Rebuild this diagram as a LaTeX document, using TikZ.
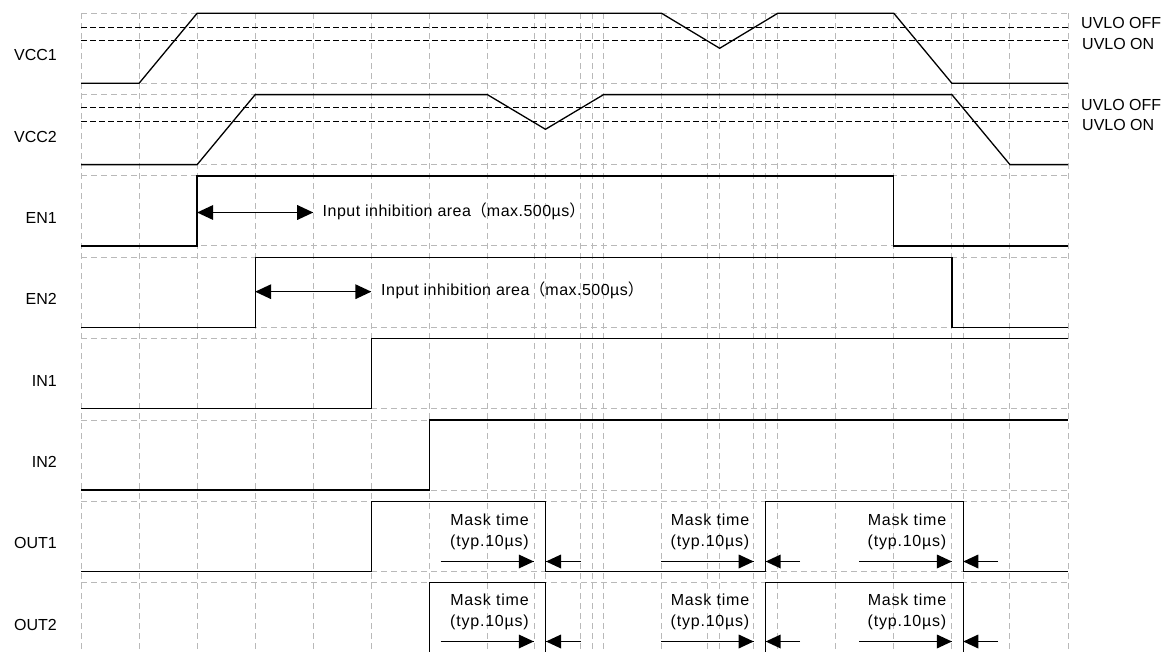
\documentclass[tikz,border=0pt]{standalone}
\usepackage{fontspec}
\setmainfont{Liberation Sans}
\newfontfamily\cjkfont{Noto Sans CJK JP}
\newfontfamily\spacedA[LetterSpace=5]{Liberation Sans}
\newfontfamily\spacedB[LetterSpace=3]{Liberation Sans}
\definecolor{gridgray}{RGB}{185,185,185}
\newcommand\diagfs{\fontsize{16}{19}\selectfont}
\begin{document}
\begin{tikzpicture}[x=1pt,y=-1pt,
  gridline/.style={gridgray, line width=1pt, dash pattern=on 6pt off 4pt},
  uvlo/.style={black, line width=1.8pt, dash pattern=on 6pt off 3pt},
  sig/.style={black, line width=1.3pt, line join=miter},
  siglab/.style={font=\diagfs, inner sep=0pt, anchor=base east},
  uvlolab/.style={font=\diagfs, inner sep=0pt, anchor=base west},
  inhlab/.style={font=\diagfs\spacedB, inner sep=0pt, anchor=base west},
  masklab/.style={font=\diagfs\spacedA, inner sep=0pt, anchor=base},
  arrline/.style={black, line width=1.3pt},
  headfill/.style={fill=black}
]
\useasboundingbox (0,0) rectangle (1168,652);
\clip (0,0) rectangle (1168,652);

% ---- grid ----
\foreach \t in {13.3,94.65,176.0,257.35,338.7,420.05,501.4,582.75}{
  \draw[gridline] (81,\t) -- (1068.02,\t);
  \draw[gridline] (81,{\t+70}) -- (1068.02,{\t+70});
}
\foreach \k in {0,...,17}{
  \draw[gridline] ({81+58.06*\k},13.3) -- ({81+58.06*\k},652);
}
\foreach \x in {534.3,580,592.3,707.3,753.7,765.7,963.3}{
  \draw[gridline] (\x,13.3) -- (\x,652);
}

% ---- UVLO thresholds ----
\draw[uvlo] (81,27.5) -- (1068.02,27.5);
\draw[uvlo] (81,40.5) -- (1068.02,40.5);
\draw[uvlo] (81,107.5) -- (1068.02,107.5);
\draw[uvlo] (81,121.5) -- (1068.02,121.5);

% ---- signals ----
% VCC1
\draw[sig] (81,83.3) -- (139.06,83.3) -- (197.12,13.3) -- (661.6,13.3) -- (719.66,48.3) -- (777.72,13.3) -- (893.84,13.3) -- (951.9,83.3) -- (1068.02,83.3);
% VCC2
\draw[sig] (81,164.65) -- (197.12,164.65) -- (255.18,94.65) -- (487.42,94.65) -- (545.48,129.3) -- (603.54,94.65) -- (951.9,94.65) -- (1009.96,164.65) -- (1068.02,164.65);
% EN1
\draw[sig] (81,246) -- (197.12,246) -- (197.12,176) -- (893.84,176) -- (893.84,246) -- (1068.02,246);
% EN2
\draw[sig] (81,327.35) -- (255.18,327.35) -- (255.18,257.35) -- (951.9,257.35) -- (951.9,327.35) -- (1068.02,327.35);
% IN1
\draw[sig] (81,408.7) -- (371.3,408.7) -- (371.3,338.7) -- (1068.02,338.7);
% IN2
\draw[sig] (81,490.05) -- (429.36,490.05) -- (429.36,420.05) -- (1068.02,420.05);
% OUT1
\draw[sig] (81,571.4) -- (371.3,571.4) -- (371.3,501.4) -- (545.48,501.4) -- (545.48,571.4) -- (765.7,571.4) -- (765.7,501.4) -- (963.3,501.4) -- (963.3,571.4) -- (1068.02,571.4);
% OUT2
\draw[sig] (81,652.75) -- (429.36,652.75) -- (429.36,582.75) -- (545.48,582.75) -- (545.48,652.75) -- (765.7,652.75) -- (765.7,582.75) -- (963.3,582.75) -- (963.3,652.75) -- (1068.02,652.75);

% ---- signal labels ----
\node[siglab] (lvcc1) at (57,60.7) {VCC1};
\node[siglab] (lvcc2) at (57,142.05) {VCC2};
\node[siglab] (len1) at (57,223.4) {EN1};
\node[siglab] (len2) at (57,304.75) {EN2};
\node[siglab] (lin1) at (57,386.1) {IN1};
\node[siglab] (lin2) at (57,467.45) {IN2};
\node[siglab] (lout1) at (57,548.8) {OUT1};
\node[siglab] (lout2) at (57,630.15) {OUT2};

% ---- UVLO labels ----
\node[uvlolab] (off1) at (1081,29) {UVLO OFF};
\node[uvlolab] (on1) at (1082,49.5) {UVLO ON};
\node[uvlolab] (off2) at (1081,110.5) {UVLO OFF};
\node[uvlolab] (on2) at (1082,131) {UVLO ON};

% ---- input inhibition areas ----
\coordinate (en1a) at (197.12,212.5);
\coordinate (en1b) at (313.24,212.5);
\draw[arrline] (en1a) -- (en1b);
\fill[headfill] (en1a) -- ++(16,-7.5) -- ++(0,15) -- cycle;
\fill[headfill] (en1b) -- ++(-16,-7.5) -- ++(0,15) -- cycle;
\node[inhlab] (inh1) at (322.5,216.5) {Input inhibition area{\cjkfont （}max.500µs{\cjkfont ）}};
\coordinate (en2a) at (255.18,291.7);
\coordinate (en2b) at (371.3,291.7);
\draw[arrline] (en2a) -- (en2b);
\fill[headfill] (en2a) -- ++(16,-7.5) -- ++(0,15) -- cycle;
\fill[headfill] (en2b) -- ++(-16,-7.5) -- ++(0,15) -- cycle;
\node[inhlab] (inh2) at (381,295.7) {Input inhibition area{\cjkfont （}max.500µs{\cjkfont ）}};

% ---- mask times ----
\foreach \ya/\yb/\yc/\r in {525.5/546.5/561.5/1, 605/626.5/641.5/2}{
  \foreach \cx/\ta/\tb/\tc/\td/\i in {489.5/440.7/533.8/580.5/546/a, 710/661/753.7/800.2/765.7/b, 907/859/951.9/998/963.3/c}{
    \node[masklab] (mt\r\i) at (\cx,\ya) {Mask time};
    \node[masklab] (mtyp\r\i) at (\cx,\yb) {(typ.10µs)};
    \coordinate (ma\r\i) at (\ta,\yc);
    \coordinate (mb\r\i) at (\tb,\yc);
    \coordinate (mc\r\i) at (\tc,\yc);
    \coordinate (md\r\i) at (\td,\yc);
    \draw[arrline] (ma\r\i) -- (mb\r\i);
    \fill[headfill] (mb\r\i) -- ++(-15,-7) -- ++(0,14) -- cycle;
    \draw[arrline] (mc\r\i) -- (md\r\i);
    \fill[headfill] (md\r\i) -- ++(15,-7) -- ++(0,14) -- cycle;
  }
}
\end{tikzpicture}
\end{document}
